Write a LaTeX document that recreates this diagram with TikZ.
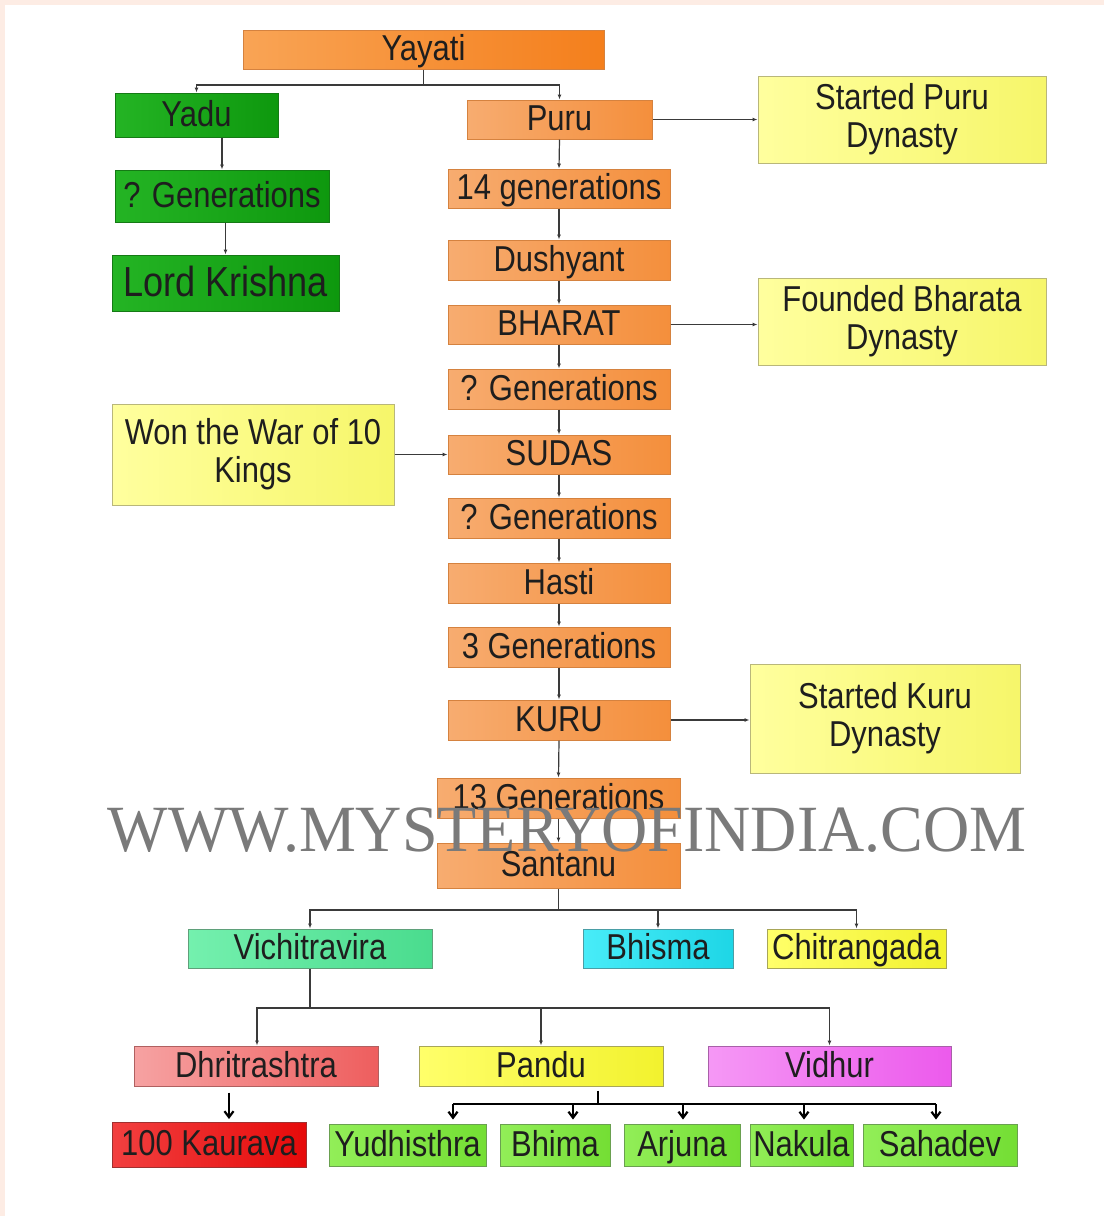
\documentclass[tikz,border=0pt]{standalone}
\usepackage{fontspec}
\setmainfont[FakeStretch=0.86]{Liberation Sans}
\newfontfamily\wmfont[FakeStretch=0.97]{Liberation Serif}
\usetikzlibrary{arrows.meta,calc}
\definecolor{txt}{HTML}{1E1E1E}
\definecolor{lnc}{HTML}{3A3A3A}
\tikzset{
  box/.style={rectangle, inner sep=0pt, text=txt, line width=1pt,
    font=\fontsize{36}{38}\selectfont, text height=26pt, text depth=4pt},
  mbox/.style={rectangle, inner sep=0pt, text=txt, line width=1pt, align=center,
    font=\fontsize{36}{38}\selectfont},
  orng/.style={left color=orA, right color=orB, draw=orD},
  orgY/.style={left color=oyA, right color=oyB, draw=orD},
  grn/.style={left color=gnA, right color=gnB, draw=gnD},
  yel/.style={left color=ylA, right color=ylB, draw=ylD},
  arr/.style={draw=lnc, line width=1.2pt, -{Latex[length=5pt,width=4pt]}},
  ln/.style={draw=lnc, line width=1.2pt},
  barr/.style={draw=black, line width=2.2pt, -{Straight Barb[length=6pt,width=9pt]}},
  bln/.style={draw=black, line width=2.6pt},
}
\definecolor{orA}{HTML}{F7AC70}
\definecolor{orB}{HTML}{F48F3C}
\definecolor{oyA}{HTML}{F9A455}
\definecolor{oyB}{HTML}{F47F1C}
\definecolor{orD}{HTML}{D5823F}
\definecolor{gnA}{HTML}{24B424}
\definecolor{gnB}{HTML}{0E980E}
\definecolor{gnD}{HTML}{157A15}
\definecolor{ylA}{HTML}{FFFF9E}
\definecolor{ylB}{HTML}{F6F66A}
\definecolor{ylD}{HTML}{B9B77A}
\definecolor{vcA}{HTML}{74F0AE}
\definecolor{vcB}{HTML}{4ADC8E}
\definecolor{vcD}{HTML}{5FA07A}
\definecolor{bsA}{HTML}{48ECF8}
\definecolor{bsB}{HTML}{1ED6E6}
\definecolor{bsD}{HTML}{4A9EA6}
\definecolor{chA}{HTML}{FFFF6A}
\definecolor{chB}{HTML}{F2F22E}
\definecolor{chD}{HTML}{A8A658}
\definecolor{drA}{HTML}{F6A2A2}
\definecolor{drB}{HTML}{EE5E5E}
\definecolor{drD}{HTML}{B06060}
\definecolor{vdA}{HTML}{F598F5}
\definecolor{vdB}{HTML}{EC5AEC}
\definecolor{vdD}{HTML}{A860A8}
\definecolor{kvA}{HTML}{F24040}
\definecolor{kvB}{HTML}{E60A0A}
\definecolor{kvD}{HTML}{A03030}
\definecolor{kdA}{HTML}{92EE58}
\definecolor{kdB}{HTML}{74DE34}
\definecolor{kdD}{HTML}{6AA050}
\definecolor{pink}{HTML}{FDECE4}
\definecolor{wmc}{HTML}{7A7A7A}
\begin{document}
\begin{tikzpicture}[x=1pt,y=-1pt]
\useasboundingbox (0,0) rectangle (1104,1216);
\fill[pink] (0,0) rectangle (1104,1216);
\fill[white] (5,5) rectangle (1104,1216);

% left/top chain
\node[box,orgY,minimum width=361pt,minimum height=39pt] (yayati) at (423.5,49.5) {Yayati};
\node[box,grn,minimum width=163pt,minimum height=44pt] (yadu) at (196.5,115) {Yadu};
\node[box,orng,minimum width=185pt,minimum height=39pt] (puru) at (559.5,119.5) {Puru};
\node[mbox,yel,minimum width=288pt,minimum height=87pt] (spuru) at (902,119.5) {Started Puru\\Dynasty};
\node[box,grn,minimum width=214pt,minimum height=52pt] (geny) at (222,196) {? Generations};
\node[box,orng,minimum width=222pt,minimum height=39pt] (g14) at (559,188.5) {14 generations};
\node[box,grn,minimum width=227pt,minimum height=56pt,font=\fontsize{42}{44}\selectfont,text height=30pt] (krishna) at (225.5,283) {Lord Krishna};
\node[box,orng,minimum width=222pt,minimum height=40pt] (dushyant) at (559,260) {Dushyant};
\node[box,orng,minimum width=222pt,minimum height=39pt] (bharat) at (559,324.5) {BHARAT};
\node[mbox,yel,minimum width=288pt,minimum height=87pt] (fbharata) at (902,321.5) {Founded Bharata\\Dynasty};
\node[box,orng,minimum width=222pt,minimum height=40pt] (gena) at (559,389) {? Generations};
\node[mbox,yel,minimum width=282pt,minimum height=101pt] (won) at (253,454.5) {Won the War of 10\\Kings};
\node[box,orng,minimum width=222pt,minimum height=39pt] (sudas) at (559,454.5) {SUDAS};
\node[box,orng,minimum width=222pt,minimum height=40pt] (genb) at (559,518) {? Generations};
\node[box,orng,minimum width=222pt,minimum height=40pt] (hasti) at (559,583) {Hasti};
\node[box,orng,minimum width=222pt,minimum height=40pt] (g3) at (559,647) {3 Generations};
\node[box,orng,minimum width=222pt,minimum height=40pt] (kuru) at (559,720) {KURU};
\node[mbox,yel,minimum width=270pt,minimum height=109pt] (skuru) at (885,718.5) {Started Kuru\\Dynasty};
\node[box,orng,minimum width=243pt,minimum height=40pt] (g13) at (558.5,798) {13 Generations};
\node[box,orng,minimum width=243pt,minimum height=45pt] (santanu) at (558.5,865.5) {Santanu};

% children of Santanu
\node[box,left color=vcA,right color=vcB,draw=vcD,minimum width=244pt,minimum height=39pt] (vichi) at (310,948.5) {Vichitravira};
\node[box,left color=bsA,right color=bsB,draw=bsD,minimum width=150pt,minimum height=39pt] (bhisma) at (658,948.5) {Bhisma};
\node[box,left color=chA,right color=chB,draw=chD,minimum width=179pt,minimum height=39pt] (chitra) at (856.5,948.5) {Chitrangada};

\node[box,left color=drA,right color=drB,draw=drD,minimum width=244pt,minimum height=40pt] (dhrit) at (256,1066) {Dhritrashtra};
\node[box,left color=chA,right color=chB,draw=chD,minimum width=244pt,minimum height=40pt] (pandu) at (541,1066) {Pandu};
\node[box,left color=vdA,right color=vdB,draw=vdD,minimum width=243pt,minimum height=40pt] (vidhur) at (829.5,1066) {Vidhur};

\node[box,left color=kvA,right color=kvB,draw=kvD,minimum width=194pt,minimum height=45pt] (kaurava) at (209,1144.5) {100 Kaurava};
\tikzset{kid/.style={box,left color=kdA,right color=kdB,draw=kdD,minimum height=42pt}}
\node[kid,minimum width=157pt] (yudh) at (407.5,1145) {Yudhisthra};
\node[kid,minimum width=110pt] (bhima) at (555,1145) {Bhima};
\node[kid,minimum width=116pt] (arjuna) at (682,1145) {Arjuna};
\node[kid,minimum width=103pt] (nakula) at (801.5,1145) {Nakula};
\node[kid,minimum width=154pt] (sahadev) at (940,1145) {Sahadev};

% connectors top
\coordinate (yb) at (423.5,85);
\draw[ln] (yayati.south) -- (yb);
\draw[arr] (yb) -| (yadu.north);
\draw[arr] (yb) -| (puru.north);
\draw[arr] (geny.north |- yadu.south) -- (geny.north);
\draw[arr] (krishna.north |- geny.south) -- (krishna.north);
\draw[arr] (puru.south) -- (g14.north);
\draw[arr] (g14.south) -- (dushyant.north);
\draw[arr] (dushyant.south) -- (bharat.north);
\draw[arr] (bharat.south) -- (gena.north);
\draw[arr] (gena.south) -- (sudas.north);
\draw[arr] (sudas.south) -- (genb.north);
\draw[arr] (genb.south) -- (hasti.north);
\draw[arr] (hasti.south) -- (g3.north);
\draw[arr] (g3.south) -- (kuru.north);
\draw[arr] (kuru.south) -- (g13.north);
\draw[arr] (g13.south) -- (santanu.north);
\draw[arr] (puru.east) -- (spuru.west);
\draw[arr] (bharat.east) -- (bharat.east -| fbharata.west);
\draw[arr] (won.east) -- (won.east -| sudas.west);
\draw[arr] (kuru.east) -- (kuru.east -| skuru.west);

% Santanu children
\coordinate (sb) at (558.5,910);
\draw[ln] (santanu.south) -- (sb);
\draw[arr] (sb) -| (vichi.north);
\draw[arr] (sb) -| (bhisma.north);
\draw[arr] (sb) -| (chitra.north);

\coordinate (vb) at (310,1008);
\draw[ln] (vichi.south) -- (vb);
\draw[arr] (vb) -| ([xshift=1pt]dhrit.north);
\draw[arr] (vb) -| (pandu.north);
\draw[arr] (vb) -| (vidhur.north);

\draw[barr] ($(dhrit.south)+(-27,6)$) -- ($(kaurava.north)+(20,-2.5)$);

\coordinate (pb) at (598,1104);
\coordinate (pl) at (453,1104);
\coordinate (pr) at (936,1104);
\draw[line width=2pt] ($(pandu.south)+(57,4)$) -- (pb);
\draw[bln] (pl) -- (pr);
\draw[barr] (pl) -- ($(yudh.north)+(45.5,-4)$);
\draw[barr] (573,1104) -- ($(bhima.north)+(18,-4)$);
\draw[barr] (683,1104) -- ($(arjuna.north)+(1,-4)$);
\draw[barr] (804,1104) -- ($(nakula.north)+(2.5,-4)$);
\draw[barr] (pr) -- ($(sahadev.north)+(-4,-4)$);

% watermark
\node[text=wmc, font=\wmfont\fontsize{66}{70}\selectfont, inner sep=0pt] (wm) at (567,830) {WWW.MYSTERYOFINDIA.COM};
\end{tikzpicture}
\end{document}
